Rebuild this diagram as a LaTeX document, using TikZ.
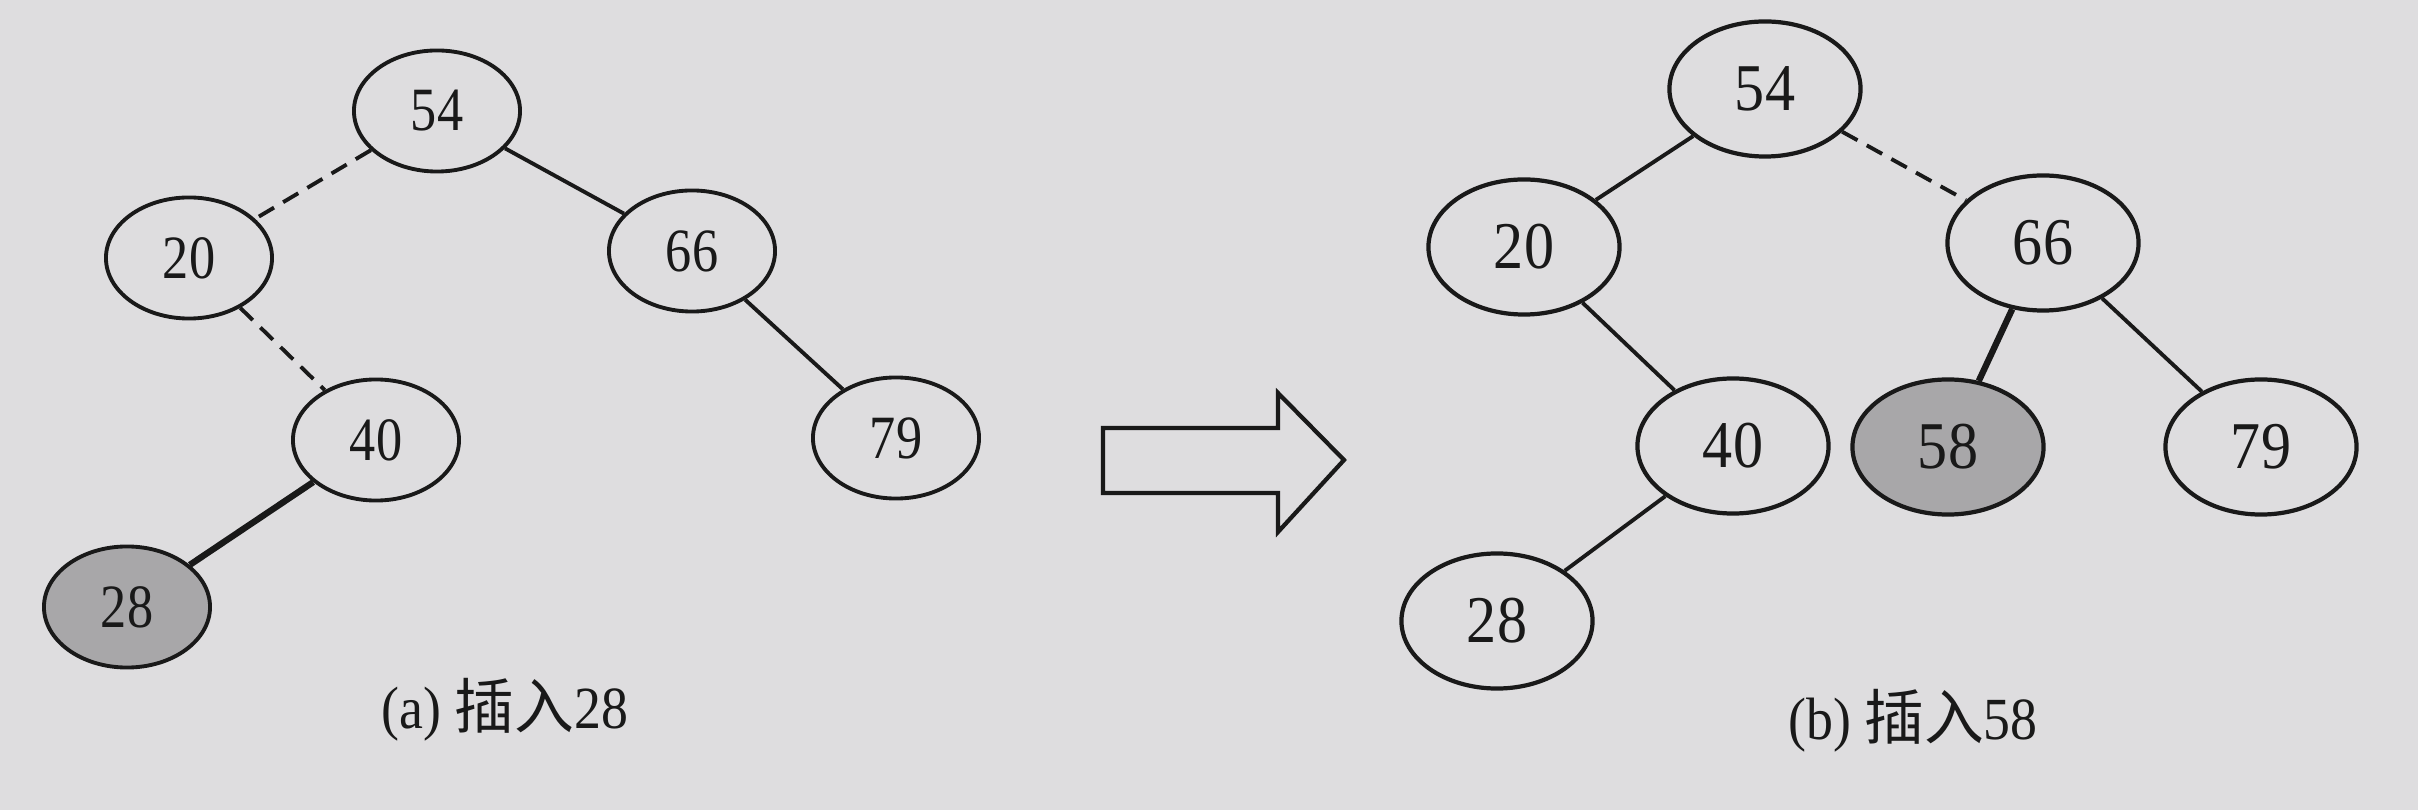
\documentclass[tikz,border=0pt]{standalone}
\usepackage{fontspec}
\setmainfont{Liberation Serif}
\newfontfamily\cjk{Noto Sans CJK SC}
\newfontfamily\numA[FakeStretch=0.85]{Liberation Serif}
\newfontfamily\numB[FakeStretch=0.9]{Liberation Serif}
\newfontfamily\capfont[FakeStretch=0.9]{Liberation Serif}
\usetikzlibrary{shapes.geometric}
\definecolor{paper}{RGB}{222,221,223}
\definecolor{newnode}{RGB}{168,167,169}
\definecolor{ink}{RGB}{25,25,25}
\tikzset{
  nodeA/.style={ellipse, draw=ink, line width=1.1pt, minimum width=1.66cm, minimum height=1.21cm, inner sep=0pt, font=\numA\fontsize{17.5}{17.5}\selectfont, text=ink},
  nodeB/.style={ellipse, draw=ink, line width=1.2pt, minimum width=1.91cm, minimum height=1.35cm, inner sep=0pt, font=\numB\fontsize{19}{19}\selectfont, text=ink},
  newone/.style={fill=newnode},
  edge/.style={draw=ink, line width=1.1pt},
  dashedge/.style={draw=ink, line width=1.1pt, dashed, dash pattern=on 5pt off 3pt},
  thickedge/.style={draw=ink, line width=1.8pt},
  caption/.style={font=\capfont\fontsize{17}{17}\selectfont, text=ink},
  blockarrow/.style={draw=ink, line width=1.2pt, fill=paper, line join=miter}
}
\begin{document}
\begin{tikzpicture}[x=0.01cm, y=-0.01cm]
\fill[paper] (0,0) rectangle (2418,810);
\useasboundingbox (0,0) rectangle (2418,810);

% (a) tree
\node[nodeA] (a54) at (437,111) {54};
\node[nodeA] (a20) at (189,258) {20};
\node[nodeA] (a66) at (692,251) {66};
\node[nodeA] (a40) at (376,440) {40};
\node[nodeA] (a79) at (896,438) {79};
\node[nodeA, newone] (a28) at (127,607) {28};
\draw[dashedge] (a54) -- (a20);
\draw[dashedge] (a20) -- (a40);
\draw[edge] (a54) -- (a66);
\draw[edge] (a66) -- (a79);
\draw[thickedge] (a40) -- (a28);
\node[caption] (capa) at (505,710) {(a) {\cjk 插入}28};

% block arrow
\draw[blockarrow] (1103,428) -- (1278,428) -- (1278,393) -- (1344,460) -- (1278,532) -- (1278,493) -- (1103,493) -- cycle;

% (b) tree
\node[nodeB] (b54) at (1765,89) {54};
\node[nodeB] (b20) at (1524,247) {20};
\node[nodeB] (b66) at (2043,243) {66};
\node[nodeB] (b40) at (1733,446) {40};
\node[nodeB, newone] (b58) at (1948,447) {58};
\node[nodeB] (b79) at (2261,447) {79};
\node[nodeB] (b28) at (1497,621) {28};
\draw[edge] (b54) -- (b20);
\draw[dashedge] (b54) -- (b66);
\draw[edge] (b20) -- (b40);
\draw[edge] (b40) -- (b28);
\draw[thickedge] (b66) -- (b58);
\draw[edge] (b66) -- (b79);
\node[caption] (capb) at (1913,721) {(b) {\cjk 插入}58};
\end{tikzpicture}
\end{document}
